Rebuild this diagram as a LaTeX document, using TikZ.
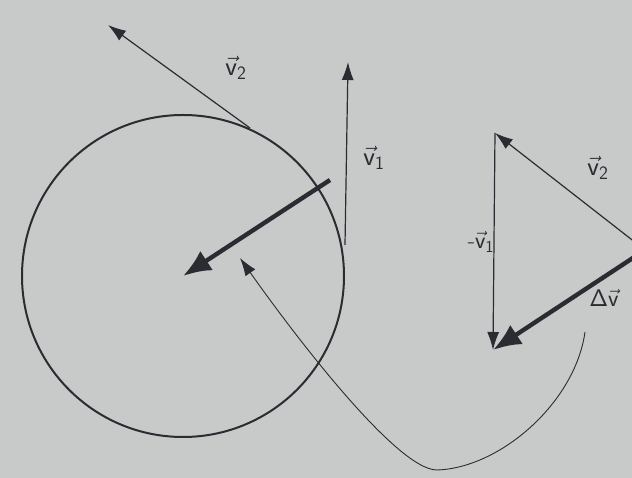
\RequirePackage{fix-cm}
\documentclass[tikz,border=0pt]{standalone}
\usepackage{amsmath, amssymb}
\usepackage{xcolor}
\usepackage{tikz}
\usetikzlibrary{calc, arrows.meta, positioning}

\definecolor{nen}{RGB}{199,202,200}
\definecolor{muc}{RGB}{42,44,50}

\begin{document}
\begin{tikzpicture}[x=1pt, y=1pt, >={Latex[length=18pt, width=12pt]},
    vecnho/.style={muc, line width=1.2pt, ->},
    vecdam/.style={muc, line width=4.4pt, -{Latex[length=28pt, width=23pt]}},
    nhan/.style={muc, inner sep=1pt, font=\fontsize{27}{30}\selectfont}]
    % Nền và khung
    \fill[nen] (0,0) rectangle (632,478);
    \useasboundingbox (0,0) rectangle (632,478);
    \clip (0,0) rectangle (632,478);
    % Đường tròn quỹ đạo
    \coordinate (O) at (183,202);
    \draw[muc, line width=2pt] (O) circle (161);
    % Vận tốc v1, v2 trên đường tròn
    \coordinate (A2) at (250,350);
    \coordinate (T2) at (108,453);
    \coordinate (A1) at (345,233);
    \coordinate (T1) at (348,416);
    \draw[vecnho] (A2) -- (T2);
    \draw[vecnho] (A1) -- (T1);
    \node[nhan] (v2) at (236,410) {$\vec{\mathsf{v}}_{\mathsf{2}}$};
    \node[nhan] (v1) at (374,320) {$\vec{\mathsf{v}}_{\mathsf{1}}$};
    % Gia tốc hướng tâm
    \coordinate (G) at (330,298);
    \draw[vecdam] (G) -- (O);
    % Tam giác vận tốc
    \coordinate (T) at (495,345);
    \coordinate (B) at (493,128);
    \coordinate (R) at (645,228);
    \draw[vecnho] (R) -- (T);
    \draw[vecnho] (T) -- (B);
    \draw[vecdam] (R) -- (B);
    \node[nhan] (v2b) at (598,310) {$\vec{\mathsf{v}}_{\mathsf{2}}$};
    \node[nhan, font=\fontsize{24}{28}\selectfont] (mv1) at (481,236) {$\text{-}\vec{\mathsf{v}}_{\mathsf{1}}$};
    \node[nhan, font=\fontsize{24}{28}\selectfont] (dv) at (604,180) {$\mathsf{\Delta}\vec{\mathsf{v}}$};
    % Mũi tên cong nối hai hình
    \coordinate (C0) at (585,146);
    \coordinate (D) at (437,8);
    \coordinate (C1) at (240,220);
    \draw[vecnho, line width=0.9pt] (C0) .. controls (575,75) and (500,10) .. (D)
        .. controls (395,8) and (285,156) .. (C1);
\end{tikzpicture}
\end{document}
